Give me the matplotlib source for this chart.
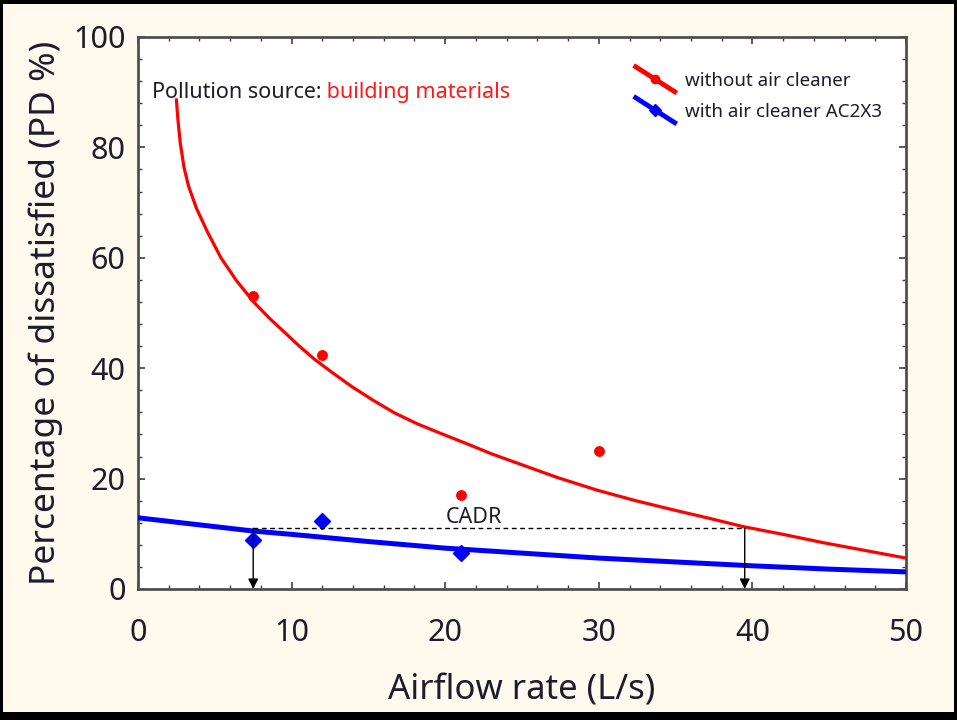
import numpy as np
import matplotlib
matplotlib.use("Agg")
from matplotlib import pyplot as plt
from matplotlib.lines import Line2D
from matplotlib.patches import Rectangle
from matplotlib.legend_handler import HandlerLine2D
from matplotlib.ticker import MultipleLocator

plt.rcParams['font.family'] = ['Noto Sans', 'DejaVu Sans']

# measured points
red_x = [7.5, 12, 21, 30]
red_y = [53.0, 42.4, 17.0, 25.0]
blue_x = [7.5, 12, 21]
blue_y = [8.8, 12.4, 6.6]

# fitted curves
red_fit_x = [2.5, 2.6, 2.75, 3.0, 3.3, 3.8, 4.5, 5.4, 6.4, 7.5, 8.5, 9.5, 10.5, 11.5,
             12.7, 13.9, 15.3, 16.7, 18.2, 19.7, 21.6, 23.0, 24.7, 27.3, 29.9, 32.4,
             34.9, 37.2, 39.4, 42.0, 44.6, 47.3, 50]
red_fit_y = [88.6, 85.0, 80.8, 76.3, 72.9, 69.0, 64.8, 60.0, 55.9, 52.1, 49.2, 46.6, 44.0, 41.6,
             39.1, 36.7, 34.2, 31.9, 29.9, 28.2, 26.1, 24.5, 22.8, 20.2, 17.9, 16.0,
             14.3, 12.8, 11.3, 9.9, 8.4, 7.0, 5.6]
blue_fit_x = [0, 5, 7.5, 10, 15, 20, 25, 30, 35, 40, 45, 50]
blue_fit_y = [12.9, 11.3, 10.5, 9.9, 8.6, 7.4, 6.5, 5.6, 4.9, 4.2, 3.6, 3.1]

cadr_level = 11.0
cadr_x = [7.5, 39.5]

labels = ["without air cleaner", "with air cleaner AC2X3"]
txt_dark = "#1c1c2c"


class DiagHandler(HandlerLine2D):
    """ slanted legend line with marker in the middle """
    def create_artists(self, legend, orig_handle, xdescent, ydescent,
                       width, height, fontsize, trans):
        x0 = -xdescent
        x1 = x0 + width
        ytop = -ydescent + 1.45 * height
        ybot = -ydescent - 0.45 * height
        ln = Line2D([x0, x1], [ytop, ybot])
        self.update_prop(ln, orig_handle, legend)
        ln.set_marker('None')
        ln.set_transform(trans)
        mk = Line2D([(x0 + x1) / 2], [(ytop + ybot) / 2])
        self.update_prop(mk, orig_handle, legend)
        mk.set_linestyle('None')
        mk.set_transform(trans)
        return [ln, mk]


fig = plt.figure(figsize=(9.57, 7.2), dpi=100)
fig.patch.set_facecolor("black")
fig.patches.append(Rectangle((3 / 957, 8 / 720), 951 / 957, 708 / 720,
                             transform=fig.transFigure, facecolor="#fff9ee",
                             edgecolor="none", zorder=-1))

ax = fig.add_axes([138 / 957, (720 - 589) / 720, 768 / 957, 552 / 720])
ax.set_facecolor("white")

ax.plot(red_fit_x, red_fit_y, color="#ff0000", lw=2.3, zorder=3)
ax.plot(blue_fit_x, blue_fit_y, color="#0000ff", lw=3.6, zorder=3)
ax.plot(red_x, red_y, 'o', color="#ff0000", ms=6.8, zorder=4)
ax.plot(blue_x, blue_y, 'D', color="#0000ff", ms=8.5, zorder=4)

# CADR construction
ax.plot(cadr_x, [cadr_level, cadr_level], color="black", lw=1, ls=(0, (3.5, 2.5)), zorder=4)
for cx in cadr_x:
    ax.annotate("", xy=(cx, 0), xytext=(cx, cadr_level),
                arrowprops=dict(arrowstyle="-|>", color="black", lw=1,
                                mutation_scale=15, shrinkA=0, shrinkB=0), zorder=4)
ax.text(21.9, 13.0, "CADR", fontsize=15.5, color=txt_dark, ha="center", va="center")

t1 = ax.text(0.018, 0.9, "Pollution source:", transform=ax.transAxes, fontsize=15.5,
             color=txt_dark, va="center", ha="left")
ax.annotate(" building materials", xy=(1, 0.5), xycoords=t1, fontsize=15.5,
            color="#ff1a1a", va="center", ha="left")

handles = [Line2D([], [], color="#ff0000", lw=3.5, marker='o', ms=6),
           Line2D([], [], color="#0000ff", lw=3.5, marker='D', ms=6)]
leg = ax.legend(handles, labels, loc="upper left", bbox_to_anchor=(0.648, 0.937),
                frameon=False, fontsize=13.5, handlelength=2.08, handletextpad=0.53,
                labelspacing=0.69, borderpad=0, borderaxespad=0,
                handler_map={Line2D: DiagHandler()})
for t in leg.get_texts():
    t.set_color(txt_dark)

ax.set_xlim(0, 50)
ax.set_ylim(0, 100)
ax.xaxis.set_major_locator(MultipleLocator(10))
ax.xaxis.set_minor_locator(MultipleLocator(2))
ax.yaxis.set_major_locator(MultipleLocator(20))
ax.yaxis.set_minor_locator(MultipleLocator(4))
ax.tick_params(which="both", direction="in", top=True, right=True, color="#404040")
ax.tick_params(which="major", length=5, width=1.2, labelsize=22, labelcolor=txt_dark)
ax.tick_params(axis="x", which="major", pad=21)
ax.tick_params(axis="y", which="major", pad=9)
ax.tick_params(which="minor", length=3, width=1)
for sp in ax.spines.values():
    sp.set_color("#505050")
    sp.set_linewidth(2)

ax.set_xlabel("Airflow rate (L/s)", fontsize=25, color=txt_dark, labelpad=18)
ax.set_ylabel("Percentage of dissatisfied (PD %)", fontsize=25.5, color=txt_dark, labelpad=7)

fig.savefig("out.png", dpi=100, facecolor=fig.get_facecolor())
